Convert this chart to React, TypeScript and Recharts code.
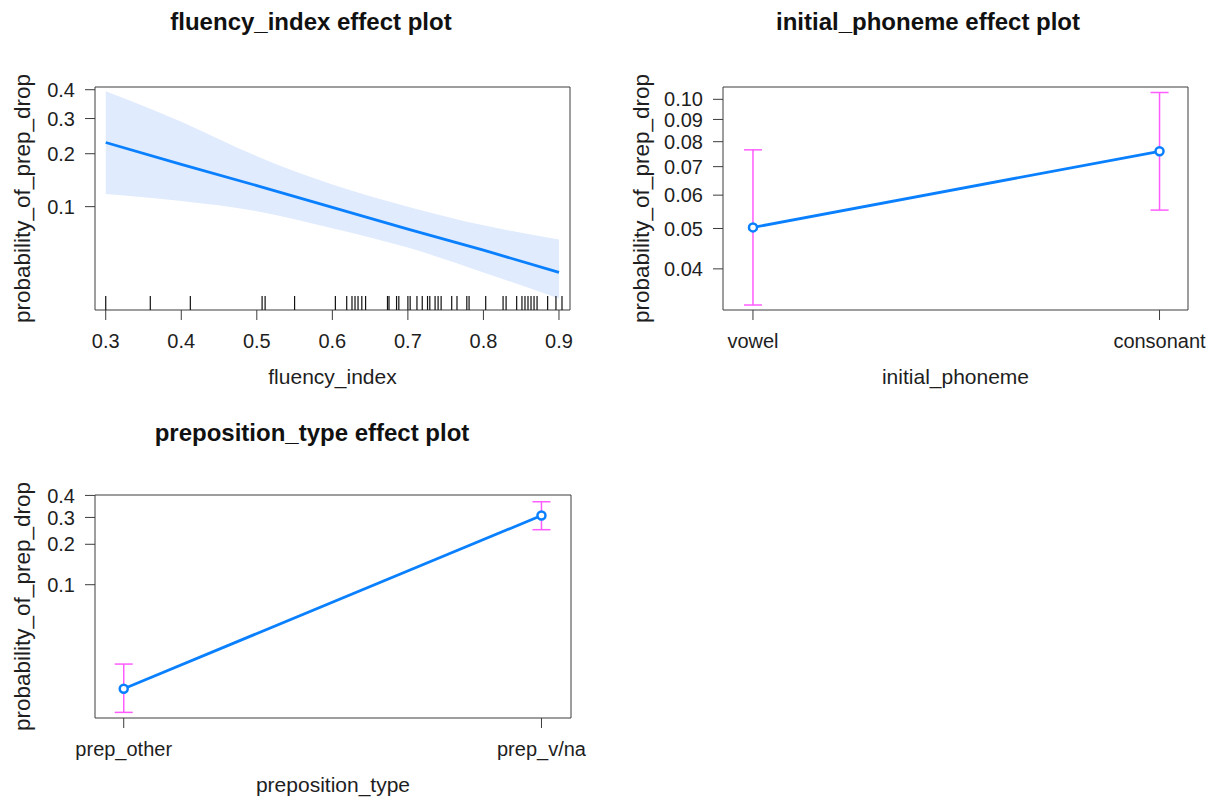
import React from "react";
import { ComposedChart, Line, Area, Scatter, XAxis, YAxis, ErrorBar } from "recharts";

// fluency_index panel (probability scale)
const fluencyX = [0.3, 0.4, 0.5, 0.6, 0.7, 0.8, 0.9];
const fluencyFit = [0.229, 0.175, 0.133, 0.099, 0.073, 0.054, 0.039];
const fluencyLower = [0.119, 0.108, 0.094, 0.074, 0.056, 0.039, 0.0265];
const fluencyUpper = [0.394, 0.29, 0.194, 0.135, 0.1, 0.077, 0.063];
const fluencyRug = [
  0.3, 0.359, 0.412, 0.507, 0.511, 0.55, 0.604, 0.619, 0.626, 0.63, 0.634, 0.639, 0.644,
  0.673, 0.675, 0.685, 0.688, 0.7, 0.703, 0.712, 0.719, 0.726, 0.729, 0.736, 0.74, 0.744,
  0.758, 0.765, 0.778, 0.781, 0.803, 0.826, 0.83, 0.844, 0.851, 0.855, 0.859, 0.863, 0.867,
  0.871, 0.885, 0.896, 0.904,
];
const fluencyTicks = [0.3, 0.4, 0.5, 0.6, 0.7, 0.8, 0.9];

// initial_phoneme panel
const phonemeCats = ["vowel", "consonant"];
const phonemeFit = [0.0503, 0.076];
const phonemeLower = [0.0327, 0.0553];
const phonemeUpper = [0.0766, 0.1036];

// preposition_type panel
const prepCats = ["prep_other", "prep_v/na"];
const prepFit = [0.0136, 0.308];
const prepLower = [0.0085, 0.251];
const prepUpper = [0.0221, 0.37];

const probTicksA = [0.1, 0.2, 0.3, 0.4];
const probTicksB = [0.04, 0.05, 0.06, 0.07, 0.08, 0.09, 0.1];

const logit = (p: number) => Math.log(p / (1 - p));
const expit = (l: number) => 1 / (1 + Math.exp(-l));

const FONT = '"Liberation Sans", Arial, Helvetica, sans-serif';
const INK = "#1e1e1e";
const FRAME = "#3c3c3c";
const BLUE = "#0a80ff";
const BAND = "#e0ebfd";
const PINK = "#ff5cff";

const AX_L = 70;
const AX_R = 50;
const AX_T = 16;
const AX_B = 50;

type Box = { l: number; t: number; w: number; h: number };

const boxes: Record<string, Box> = {
  fluency: { l: 95, t: 87, w: 475, h: 223 },
  phoneme: { l: 723, t: 87, w: 465, h: 223 },
  prep: { l: 95, t: 495, w: 476, h: 223 },
};

function axes(
  xDomain: number[],
  xTicks: number[],
  xFmt: (v: number) => string,
  yLim: number[],
  yTicks: number[],
  digits: number
) {
  const yDomain = [logit(yLim[0]), logit(yLim[1])];
  const yT = yTicks.map(logit);
  const tickStyle = { fill: INK, fontSize: 20, fontFamily: FONT };
  const line = { stroke: FRAME, strokeWidth: 1 };
  const yFmt = (v: number) => expit(v).toFixed(digits);
  return [
    <XAxis key="xb" dataKey="x" type="number" domain={xDomain} ticks={xTicks} interval={0}
      allowDataOverflow tickFormatter={xFmt} height={AX_B} tickSize={10} tickMargin={14}
      tick={tickStyle} axisLine={line} tickLine={line} />,
    <XAxis key="xt" xAxisId="t" orientation="top" dataKey="x" type="number" domain={xDomain}
      ticks={xTicks} interval={0} allowDataOverflow height={AX_T} tickSize={10} tick={false}
      axisLine={line} tickLine={line} />,
    <YAxis key="yl" dataKey="y" type="number" domain={yDomain} ticks={yT} interval={0}
      allowDataOverflow tickFormatter={yFmt} width={AX_L} tickSize={10} tickMargin={10}
      tick={tickStyle} axisLine={line} tickLine={line} />,
    <YAxis key="yr" yAxisId="r" orientation="right" type="number" domain={yDomain} ticks={yT}
      interval={0} allowDataOverflow width={AX_R} tickSize={10} tick={false}
      axisLine={line} tickLine={line} />,
  ];
}

function place(b: Box): React.CSSProperties {
  return { position: "absolute", left: b.l - AX_L, top: b.t - AX_T };
}

const fluencyLim = [0.0223, 0.41];
const phonemeLim = [0.0318, 0.1066];
const prepLim = [0.0076, 0.402];

const fluencyData = fluencyX.map((x, i) => ({
  x,
  fit: logit(fluencyFit[i]),
  band: [logit(fluencyLower[i]), logit(fluencyUpper[i])],
}));
const rugData = fluencyRug.map((x) => ({ x, y: logit(fluencyLim[0]) }));

function catData(fit: number[], lo: number[], hi: number[]) {
  return fit.map((p, i) => ({
    x: i + 1,
    fit: logit(p),
    err: [logit(p) - logit(lo[i]), logit(hi[i]) - logit(p)],
  }));
}
const phonemeData = catData(phonemeFit, phonemeLower, phonemeUpper);
const prepData = catData(prepFit, prepLower, prepUpper);

const RugTick = (props: any) => (
  <line x1={props.cx} x2={props.cx} y1={props.cy} y2={props.cy - 14} stroke="#111" strokeWidth={1.2} />
);

const dot = { r: 4, stroke: BLUE, strokeWidth: 2.5, fill: "#fff" };

function Labels() {
  const title = { fontFamily: FONT, fontSize: 24, fontWeight: 700, fill: "#111", textAnchor: "middle" as const };
  const lab = { fontFamily: FONT, fontSize: 21, fill: INK, textAnchor: "middle" as const };
  const yl = (x: number, y: number) => (
    <text {...lab} fontSize={22.5} transform={`translate(${x},${y}) rotate(-90)`} dy="0.35em">
      probability_of_prep_drop
    </text>
  );
  return (
    <svg width={1216} height={800} style={{ position: "absolute", left: 0, top: 0, pointerEvents: "none" }}>
      <text {...title} x={311} y={30}>fluency_index effect plot</text>
      <text {...title} x={928} y={30}>initial_phoneme effect plot</text>
      <text {...title} x={312} y={441}>preposition_type effect plot</text>
      <text {...lab} x={332.5} y={384}>fluency_index</text>
      <text {...lab} x={955.5} y={384}>initial_phoneme</text>
      <text {...lab} x={333} y={792}>preposition_type</text>
      {yl(22, 198.5)}
      {yl(641, 198.5)}
      {yl(22, 606.5)}
    </svg>
  );
}

export default function App() {
  const f = boxes.fluency;
  const p = boxes.phoneme;
  const q = boxes.prep;
  return (
    <div style={{ position: "absolute", left: 0, top: 0, width: 1216, height: 800, background: "#fff", fontFamily: FONT }}>
      <div style={place(f)}>
        <ComposedChart width={f.w + AX_L + AX_R} height={f.h + AX_T + AX_B} data={fluencyData}
          margin={{ top: 0, right: 0, bottom: 0, left: 0 }}>
          {axes([0.2858, 0.9146], fluencyTicks, (v) => v.toFixed(1), fluencyLim, probTicksA, 1)}
          <Area type="monotone" dataKey="band" fill={BAND} fillOpacity={1} stroke="none" isAnimationActive={false} />
          <Line type="linear" dataKey="fit" stroke={BLUE} strokeWidth={2.8} dot={false} isAnimationActive={false} />
          <Scatter data={rugData} dataKey="y" shape={RugTick} isAnimationActive={false} />
        </ComposedChart>
      </div>
      <div style={place(p)}>
        <ComposedChart width={p.w + AX_L + AX_R} height={p.h + AX_T + AX_B} data={phonemeData}
          margin={{ top: 0, right: 0, bottom: 0, left: 0 }}>
          {axes([1 - 30 / 407, 2 + 28.5 / 407], [1, 2], (v) => phonemeCats[v - 1], phonemeLim, probTicksB, 2)}
          <Line type="linear" dataKey="fit" stroke={BLUE} strokeWidth={2.8} dot={dot} isAnimationActive={false}>
            <ErrorBar dataKey="err" direction="y" width={9} stroke={PINK} strokeWidth={1.5} isAnimationActive={false} />
          </Line>
        </ComposedChart>
      </div>
      <div style={place(q)}>
        <ComposedChart width={q.w + AX_L + AX_R} height={q.h + AX_T + AX_B} data={prepData}
          margin={{ top: 0, right: 0, bottom: 0, left: 0 }}>
          {axes([1 - 28.7 / 417.3, 2 + 29.5 / 417.3], [1, 2], (v) => prepCats[v - 1], prepLim, probTicksA, 1)}
          <Line type="linear" dataKey="fit" stroke={BLUE} strokeWidth={2.8} dot={dot} isAnimationActive={false}>
            <ErrorBar dataKey="err" direction="y" width={9} stroke={PINK} strokeWidth={1.5} isAnimationActive={false} />
          </Line>
        </ComposedChart>
      </div>
      <Labels />
    </div>
  );
}
